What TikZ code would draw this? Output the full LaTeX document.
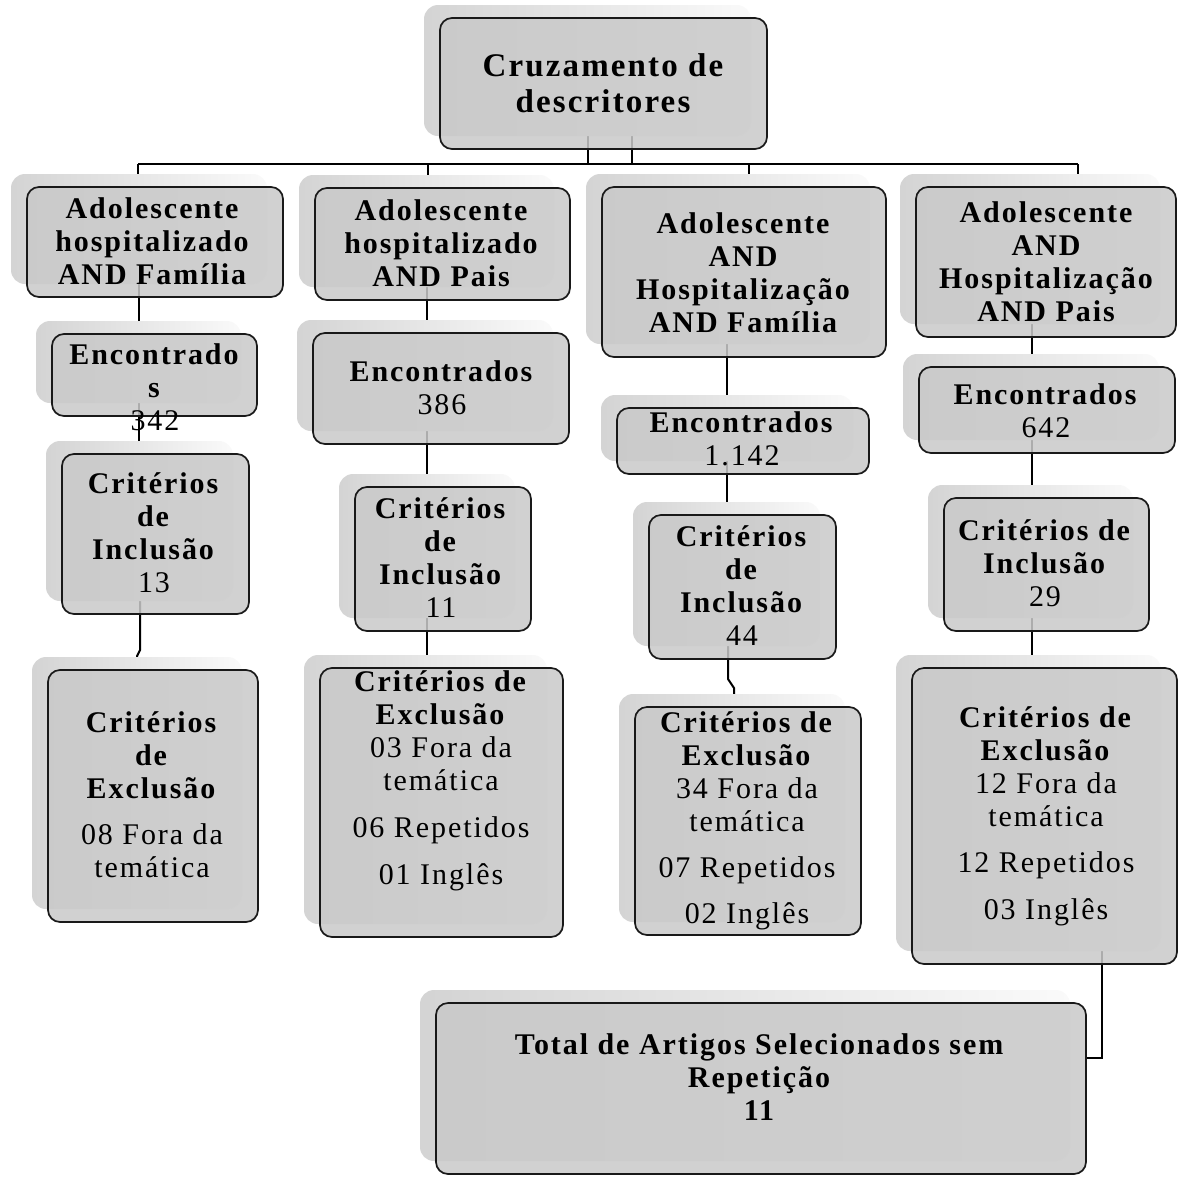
\documentclass[tikz,border=0pt]{standalone}
\usepackage{fontspec}
\setmainfont{Liberation Serif}[LetterSpace=6.5]
\pgfdeclarelayer{lines}
\pgfdeclarelayer{shad}
\pgfsetlayers{lines,shad,main}
\tikzset{
  box/.style={draw=black!90, line width=1.7pt, rounded corners=12pt, fill=black!21, fill opacity=0.86, inner sep=0pt, outer sep=0pt},
  shadowbox/.style={rounded corners=14pt, left color=black!17, right color=black!2},
  txt/.style={align=center, inner sep=0pt, font=\fontsize{30}{33}\selectfont},
  toptxt/.style={align=center, inner sep=0pt, font=\fontsize{33}{36}\selectfont\bfseries},
  conn/.style={draw=black, line width=2pt},
}
\begin{document}
\begin{tikzpicture}[x=1pt,y=-1pt]
\useasboundingbox (0,0) rectangle (1178,1176);
% boxes
\node[box, minimum width=327pt, minimum height=131pt] (top) at (603.5,83.5) {};
\node[box, minimum width=256pt, minimum height=110pt] (b1) at (155,242) {};
\node[box, minimum width=255pt, minimum height=112pt] (b2) at (442.5,244) {};
\node[box, minimum width=284pt, minimum height=170pt] (b3) at (744,272) {};
\node[box, minimum width=260pt, minimum height=150pt] (b4) at (1046,262) {};
\node[box, minimum width=205pt, minimum height=82pt] (e1) at (154.5,375) {};
\node[box, minimum width=256pt, minimum height=111pt] (e2) at (441,388.5) {};
\node[box, minimum width=252pt, minimum height=66pt] (e3) at (743,441) {};
\node[box, minimum width=256pt, minimum height=86pt] (e4) at (1047,410) {};
\node[box, minimum width=187pt, minimum height=160pt] (i1) at (155.5,534) {};
\node[box, minimum width=176pt, minimum height=144pt] (i2) at (443,559) {};
\node[box, minimum width=187pt, minimum height=144pt] (i3) at (742.5,587) {};
\node[box, minimum width=205pt, minimum height=133pt] (i4) at (1046.5,564.5) {};
\node[box, minimum width=210pt, minimum height=252pt] (x1) at (153,796) {};
\node[box, minimum width=243pt, minimum height=269pt] (x2) at (441.5,802.5) {};
\node[box, minimum width=226pt, minimum height=228pt] (x3) at (748,821) {};
\node[box, minimum width=265pt, minimum height=296pt] (x4) at (1044.5,816) {};
\node[box, minimum width=650pt, minimum height=171pt] (tot) at (761,1088.5) {};
% shadows
\begin{pgfonlayer}{shad}
\foreach \n in {top,b1,b2,b3,b4,e1,e2,e3,e4,i1,i2,i3,i4,x1,x2,x3,x4,tot}{
  \shade[shadowbox] ([shift={(-16,-13)}]\n.south west) rectangle ([shift={(-16,-13)}]\n.north east);
}
\end{pgfonlayer}
% connector coordinates
\coordinate (bus) at (0,164);
\coordinate (t1) at (588,0);
\coordinate (t2) at (632,0);
\coordinate (d1) at (138,0);
\coordinate (d2) at (428,0);
\coordinate (d3) at (749,0);
\coordinate (d4) at (1078,0);
\coordinate (c1) at (139,0);
\coordinate (c2) at (427,0);
\coordinate (c3) at (727,0);
\coordinate (c4) at (1032,0);
\coordinate (j1a) at (140,650);
\coordinate (j1b) at (137,656);
\coordinate (j3a) at (728,679);
\coordinate (j3b) at (734,688);
\coordinate (c5) at (1102,0);
\coordinate (tj) at (0,1058);
\begin{pgfonlayer}{lines}
\draw[conn] (top.center -| t1) -- (bus -| t1);
\draw[conn] (top.center -| t2) -- (bus -| t2);
\draw[conn] (bus -| d1) -- (bus -| d4);
\draw[conn] (bus -| d1) -- (b1.center -| d1);
\draw[conn] (bus -| d2) -- (b2.center -| d2);
\draw[conn] (bus -| d3) -- (b3.center -| d3);
\draw[conn] (bus -| d4) -- (b4.center -| d4);
\draw[conn] (b1.center -| c1) -- (e1.center -| c1);
\draw[conn] (e1.center -| c1) -- (i1.center -| c1);
\draw[conn] (i1.center -| j1a) -- (j1a) -- (j1b) -- (x1.center -| j1b);
\draw[conn] (b2.center -| c2) -- (e2.center -| c2);
\draw[conn] (e2.center -| c2) -- (i2.center -| c2);
\draw[conn] (i2.center -| c2) -- (x2.center -| c2);
\draw[conn] (b3.center -| c3) -- (e3.center -| c3);
\draw[conn] (e3.center -| c3) -- (i3.center -| c3);
\draw[conn] (i3.center -| j3a) -- (j3a) -- (j3b) -- (x3.center -| j3b);
\draw[conn] (b4.center -| c4) -- (e4.center -| c4);
\draw[conn] (e4.center -| c4) -- (i4.center -| c4);
\draw[conn] (i4.center -| c4) -- (x4.center -| c4);
\draw[conn] (x4.center -| c5) -- (c5 |- tj) -- (tot.east |- tj);
\end{pgfonlayer}
% texts
\node[toptxt] (toptx) at (603,83) {Cruzamento de\\descritores};
\node[txt] (b1t) at (153,241) {\textbf{Adolescente}\\\textbf{hospitalizado}\\\textbf{AND Família}};
\node[txt] (b2t) at (442,243) {\textbf{Adolescente}\\\textbf{hospitalizado}\\\textbf{AND Pais}};
\node[txt] (b3t) at (744,273) {\textbf{Adolescente}\\\textbf{AND}\\\textbf{Hospitalização}\\\textbf{AND Família}};
\node[txt] (b4t) at (1047,262) {\textbf{Adolescente}\\\textbf{AND}\\\textbf{Hospitalização}\\\textbf{AND Pais}};
\node[txt] (e1t) at (155,387) {\textbf{Encontrado}\\\textbf{s}\\342};
\node[txt] (e2t) at (442,388) {\textbf{Encontrados}\\386};
\node[txt] (e3t) at (742,439) {\textbf{Encontrados}\\1.142};
\node[txt] (e4t) at (1046,411) {\textbf{Encontrados}\\642};
\node[txt] (i1t) at (154,533) {\textbf{Critérios}\\\textbf{de}\\\textbf{Inclusão}\\13};
\node[txt] (i2t) at (441,558) {\textbf{Critérios}\\\textbf{de}\\\textbf{Inclusão}\\11};
\node[txt] (i3t) at (742,586) {\textbf{Critérios}\\\textbf{de}\\\textbf{Inclusão}\\44};
\node[txt] (i4t) at (1045,563) {\textbf{Critérios de}\\\textbf{Inclusão}\\29};
\node[txt] (x1t) at (152,795) {\textbf{Critérios}\\\textbf{de}\\\textbf{Exclusão}\\[13pt]08 Fora da\\temática};
\node[txt] (x2t) at (441,781) {\textbf{Critérios de}\\\textbf{Exclusão}\\03 Fora da\\temática\\[14pt]06 Repetidos\\[14pt]01 Inglês};
\node[txt] (x3t) at (747,821) {\textbf{Critérios de}\\\textbf{Exclusão}\\34 Fora da\\temática\\[13pt]07 Repetidos\\[13pt]02 Inglês};
\node[txt] (x4t) at (1046,816) {\textbf{Critérios de}\\\textbf{Exclusão}\\12 Fora da\\temática\\[13pt]12 Repetidos\\[14pt]03 Inglês};
\node[txt] (tott) at (760,1077) {\textbf{Total de Artigos Selecionados sem}\\\textbf{Repetição}\\\textbf{11}};
\end{tikzpicture}
\end{document}
